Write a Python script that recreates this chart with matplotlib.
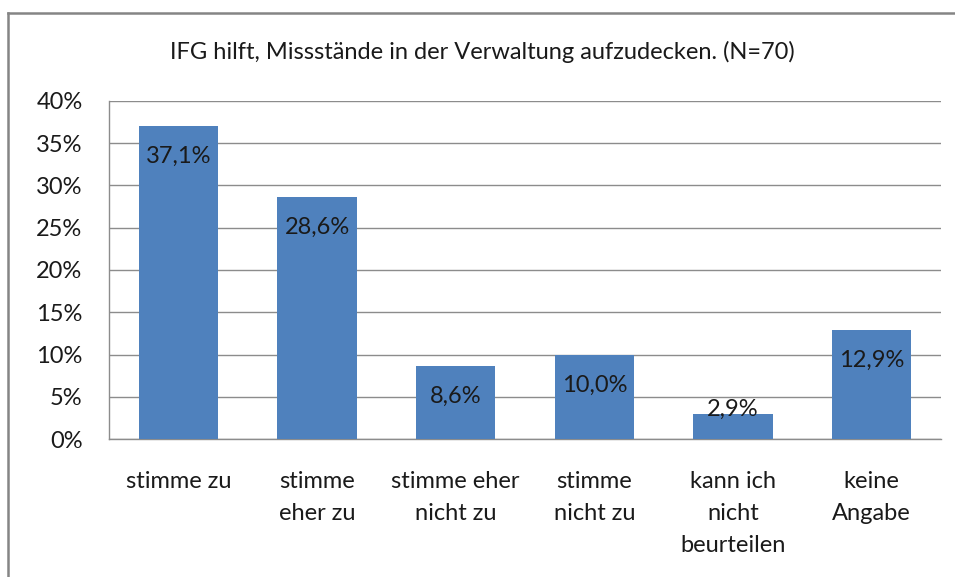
import matplotlib.pyplot as plt
from matplotlib.lines import Line2D

categories = ["stimme zu", "stimme\neher zu", "stimme eher\nnicht zu", "stimme\nnicht zu",
              "kann ich\nnicht\nbeurteilen", "keine\nAngabe"]
values = [37.1, 28.6, 8.6, 10.0, 2.9, 12.9]
value_labels = ["37,1%", "28,6%", "8,6%", "10,0%", "2,9%", "12,9%"]
yticks = [0, 5, 10, 15, 20, 25, 30, 35, 40]

plt.rcParams['font.family'] = ['Lato', 'DejaVu Sans']
fs = 17

fig = plt.figure(figsize=(9.55, 5.77), dpi=100)
ax = fig.add_axes([109/955, 1-439/577, (941-109)/955, (439-101)/577])

x = list(range(len(categories)))
ax.bar(x, values, width=0.57, color='#4F81BD', zorder=3)

for xi, v, lab in zip(x, values, value_labels):
    y = v - 3.6 if v - 3.6 > 2 else v + 0.6
    ax.text(xi, y, lab, ha='center', va='center', fontsize=fs, color='#1a1a1a', zorder=4)

ax.set_xlim(-0.5, len(categories) - 0.5)
ax.set_ylim(0, 40)
ax.set_yticks(yticks)
ax.set_yticklabels([f"{t}%" for t in yticks], fontsize=fs, color='#1a1a1a')
ax.set_xticks(x)
ax.set_xticklabels(categories, fontsize=fs, color='#1a1a1a', linespacing=1.65)
ax.tick_params(axis='both', length=0)
ax.tick_params(axis='y', pad=19)
ax.tick_params(axis='x', pad=23)
ax.grid(axis='y', color='#8c8c8c', linewidth=1, zorder=0)
for s in ['top', 'right']:
    ax.spines[s].set_visible(False)
for s in ['left', 'bottom']:
    ax.spines[s].set_color('#8c8c8c')
    ax.spines[s].set_linewidth(1)

fig.text(0.505, 1 - 52/577, "IFG hilft, Missstände in der Verwaltung aufzudecken. (N=70)",
         ha='center', va='center', fontsize=fs, color='#1a1a1a')

# chart border (left and top)
fig.add_artist(Line2D([8/955, 8/955], [0, 1 - 13/577], color='#858585', linewidth=1.8,
                      transform=fig.transFigure))
fig.add_artist(Line2D([8/955, 1], [1 - 13/577, 1 - 13/577], color='#858585', linewidth=1.8,
                      transform=fig.transFigure))

fig.savefig("out.png", dpi=100)
